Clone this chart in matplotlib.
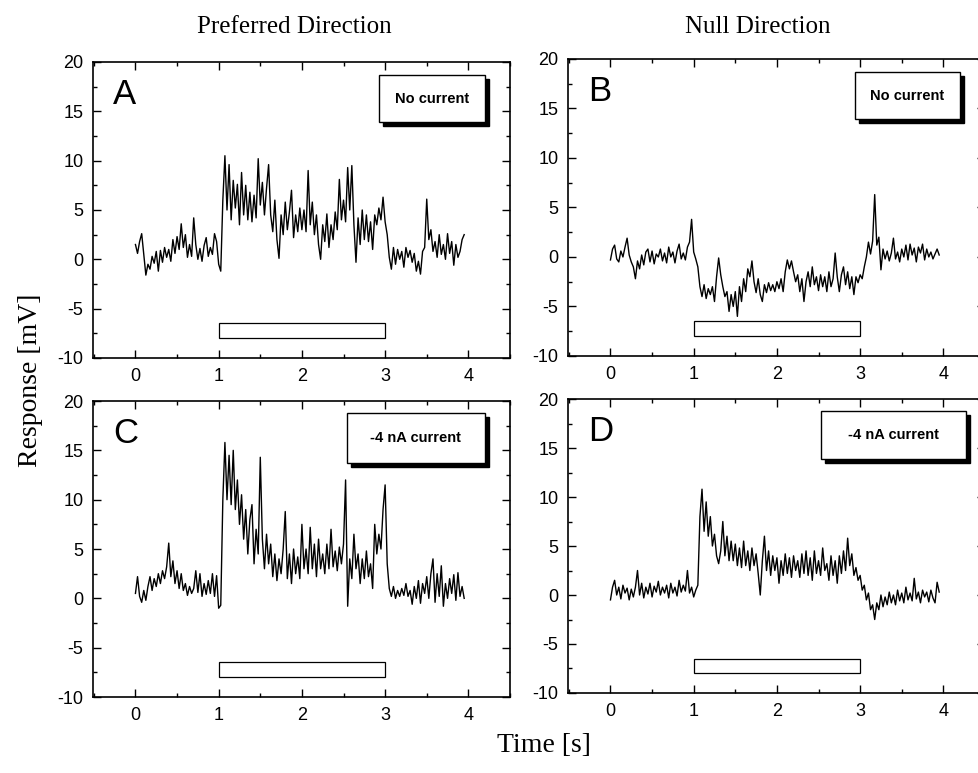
import numpy
import matplotlib
matplotlib.use("Agg")
import matplotlib.pyplot as plt
from matplotlib.patches import Rectangle

# ----

# Sample times (s); 25 ms spacing.
time = numpy.arange(159) * 0.025

# Preferred direction, no current (A).
resp_a = [
    1.5, 0.6, 1.8, 2.6, 0.5, -1.6, -0.5, -1.0, 0.3, -0.4, 0.8, -1.2, 0.9, -0.3, 1.2, 0.2, 1.0, -0.2, 2.0, 0.6,
    2.3, 1.0, 3.6, 1.2, 2.5, 0.2, 1.5, 0.3, 4.2, 1.5, 0.0, 1.1, -0.2, 1.4, 2.2, 0.3, 1.2, 0.5, 2.6, 1.8,
    -0.5, -1.2, 6.0, 10.5, 5.0, 9.6, 4.0, 8.0, 5.2, 7.6, 3.5, 8.8, 4.5, 7.5, 4.0, 6.8, 3.8, 6.5, 4.2, 10.2,
    5.5, 7.8, 4.5, 7.2, 9.6, 4.5, 2.8, 6.0, 2.0, 0.1, 4.5, 2.5, 5.8, 3.0, 4.8, 7.0, 2.2, 4.5, 2.8, 5.2,
    3.0, 5.0, 2.8, 9.0, 3.5, 5.8, 2.5, 4.5, 1.5, 0.0, 3.5, 1.8, 4.6, 1.2, 3.5, 2.0, 4.8, 3.0, 8.1, 4.0,
    6.0, 3.8, 9.3, 5.0, 9.5, 3.5, -0.3, 4.2, 1.5, 5.0, 2.0, 4.5, 1.8, 3.8, 1.0, 4.5, 3.5, 5.2, 4.0, 6.3,
    3.8, 2.5, 0.2, -1.0, 1.2, -0.5, 1.0, 0.0, 0.8, -0.8, 1.2, 0.2, 0.9, -0.3, 0.6, -1.2, -0.2, -1.5, 0.8, 1.2,
    6.1, 2.0, 3.0, 0.8, 1.8, 0.2, 2.5, 0.5, 1.5, 0.0, 2.6, 0.6, 1.8, -0.6, 1.5, 0.2, 0.8, 2.0, 2.5,
]

# Null direction, no current (B).
resp_b = [
    -0.3, 0.8, 1.2, -0.2, -0.5, 0.6, 0.0, 1.0, 1.9, 0.2, -0.5, -1.0, -2.2, -0.4, -1.2, 0.2, -0.8, 0.5, 0.8, -0.5,
    0.6, -0.7, 0.3, 0.0, 0.8, -0.4, 0.4, -0.6, 1.0, 0.0, 0.5, -0.6, 0.6, 1.3, -0.2, 0.4, -0.3, 1.0, 1.5, 3.8,
    0.5, -0.2, -1.0, -3.0, -4.0, -2.8, -4.2, -3.2, -3.8, -3.0, -4.5, -2.0, -0.1, -1.8, -3.0, -4.0, -3.5, -5.5, -3.8, -5.0,
    -3.5, -6.0, -3.0, -4.5, -2.2, -3.5, -1.2, -2.0, -0.4, -2.5, -3.6, -2.2, -3.8, -4.5, -2.8, -3.6, -2.6, -3.4, -2.8, -3.5,
    -2.5, -3.2, -2.2, -3.5, -1.5, -0.3, -1.2, -0.4, -1.5, -2.5, -1.8, -3.5, -2.2, -4.5, -2.5, -1.5, -3.0, -1.0, -2.8, -2.0,
    -3.4, -1.8, -3.0, -2.0, -3.5, -1.5, -3.0, -2.2, 0.4, -2.0, -3.5, -1.8, -1.0, -2.8, -1.5, -3.2, -2.0, -3.8, -2.0, -2.6,
    -1.8, -2.2, -1.0, 0.0, 1.5, 0.3, 1.6, 6.3, 1.2, 2.0, -1.3, 0.8, -0.2, 0.6, -0.4, 0.4, 1.9, -0.2, 0.5, -0.5,
    0.8, 0.0, 1.2, -0.3, 1.3, 0.2, 0.9, -0.5, 1.0, 0.4, 1.3, -0.3, 0.8, 0.0, 0.5, -0.2, 0.3, 0.8, 0.2,
]

# Preferred direction, -4 nA current (C).
resp_c = [
    0.5, 2.2, 0.2, -0.4, 0.8, -0.2, 1.2, 2.2, 0.8, 2.0, 1.2, 2.5, 1.5, 2.8, 2.0, 3.2, 5.6, 2.2, 3.8, 1.5,
    2.8, 1.0, 2.5, 0.8, 1.5, 0.3, 1.2, 0.5, 1.0, 2.8, 0.6, 2.5, 0.2, 1.5, 0.4, 1.8, 0.5, 2.5, 0.2, 2.3,
    -1.0, -0.7, 10.0, 15.8, 10.0, 14.5, 9.5, 15.0, 9.0, 12.0, 7.5, 10.5, 6.0, 9.0, 4.5, 8.0, 9.5, 3.5, 7.0, 4.5,
    14.3, 6.0, 3.0, 6.5, 3.5, 5.5, 2.2, 4.5, 1.8, 4.0, 2.5, 5.0, 8.8, 2.0, 4.5, 1.5, 5.0, 2.5, 4.2, 2.0,
    7.5, 3.0, 5.0, 2.5, 7.2, 3.0, 5.5, 2.2, 6.0, 3.0, 4.5, 2.5, 5.5, 3.0, 7.0, 3.2, 4.8, 2.8, 5.2, 3.5,
    5.5, 12.0, -0.8, 4.0, 2.0, 6.5, 3.0, 4.5, 1.5, 4.0, 2.0, 4.8, 2.2, 3.5, 1.0, 7.5, 4.5, 6.5, 5.0, 9.0,
    11.5, 3.5, 1.0, 0.2, 1.2, 0.0, 0.8, 0.2, 1.0, 0.3, 1.5, 0.2, 0.8, -0.6, 1.2, 0.0, 1.8, -0.5, 1.5, 0.5,
    2.2, 0.0, 2.5, 4.0, -0.4, 2.5, 0.2, 3.3, -0.8, 1.5, 0.0, 2.0, 0.5, 2.4, -0.2, 2.6, 0.2, 1.2, 0.0,
]

# Null direction, -4 nA current (D).
resp_d = [
    -0.5, 0.8, 1.5, 0.0, 0.8, -0.4, 1.0, 0.2, 0.7, -0.5, 0.6, -0.2, 0.8, 2.5, 0.0, 1.2, -0.3, 0.8, 0.1, 1.2,
    -0.2, 0.9, 0.3, 1.4, 0.0, 0.8, 0.2, 1.0, -0.3, 1.2, 0.2, 0.8, -0.1, 1.5, 0.3, 1.0, 0.4, 2.5, 0.2, 0.8,
    -0.2, 0.5, 1.0, 8.0, 10.8, 6.5, 9.5, 6.0, 8.0, 5.0, 6.2, 4.0, 3.2, 4.5, 7.5, 4.0, 6.0, 3.5, 5.5, 3.5,
    5.2, 3.0, 4.8, 2.8, 5.5, 3.0, 4.5, 2.5, 4.8, 3.0, 4.2, 2.2, 0.0, 3.5, 6.0, 2.5, 4.5, 2.0, 4.0, 2.5,
    3.8, 1.2, 3.5, 2.0, 4.2, 2.2, 3.8, 1.8, 4.0, 2.5, 3.5, 1.8, 4.2, 2.2, 4.5, 2.0, 3.8, 1.5, 4.5, 2.2,
    3.5, 2.0, 4.8, 2.5, 3.2, 1.5, 4.0, 2.0, 3.5, 1.2, 4.0, 2.2, 4.5, 2.5, 5.8, 3.0, 4.2, 2.0, 2.8, 1.5,
    2.0, 0.5, 1.0, -0.5, 0.2, -1.5, -1.0, -2.5, -0.8, -1.5, 0.0, -1.2, -0.2, -1.0, 0.3, -0.8, 0.0, -1.0, 0.5, -0.6,
    0.2, -0.8, 0.8, -0.5, 0.2, -0.6, 1.7, -0.4, 0.3, -0.8, 0.5, -0.2, 0.3, -0.7, 0.5, -0.3, -0.8, 1.3, 0.3,
]

panel_letters = ["A", "B", "C", "D"]
panel_notes = ["No current", "No current", "-4 nA current", "-4 nA current"]
stim_on, stim_off = 1.0, 3.0

# ----

plt.rcParams["axes.unicode_minus"] = False
plt.rcParams["font.family"] = ["Liberation Sans", "DejaVu Sans"]

fig = plt.figure(figsize=(9.79, 7.73), dpi=100)

positions = [
    [0.0950, 0.5369, 0.4259, 0.3829],
    [0.5802, 0.5395, 0.4259, 0.3842],
    [0.0950, 0.0983, 0.4259, 0.3829],
    [0.5802, 0.1035, 0.4259, 0.3803],
]
# Note boxes in axes fractions: (x0, y0, x1, y1).
note_boxes = [
    (0.686, 0.797, 0.940, 0.956),
    (0.688, 0.798, 0.940, 0.956),
    (0.609, 0.790, 0.940, 0.959),
    (0.607, 0.795, 0.955, 0.960),
]

traces = [resp_a, resp_b, resp_c, resp_d]

for idx, resp in enumerate(traces):
    ax = fig.add_axes(positions[idx])
    ax.plot(time, resp, color="black", lw=1.0)

    # Stimulus bar.
    ax.add_patch(Rectangle((stim_on, -8.0), stim_off - stim_on, 1.5,
                           facecolor="white", edgecolor="black", lw=0.9))

    ax.set_xlim(-0.51, 4.5)
    ax.set_ylim(-10, 20)
    ax.set_xticks([0, 1, 2, 3, 4])
    ax.set_xticks(numpy.arange(-0.5, 4.6, 0.5), minor=True)
    ax.set_yticks([-10, -5, 0, 5, 10, 15, 20])
    ax.set_yticks(numpy.arange(-10, 20.1, 2.5), minor=True)
    ax.tick_params(which="both", direction="in", top=True, right=True,
                   labelsize=13, width=1.0)
    ax.tick_params(which="major", length=6, pad=7)
    ax.tick_params(which="minor", length=3)
    for sp in ax.spines.values():
        sp.set_linewidth(1.2)

    ax.text(0.048, 0.945, panel_letters[idx], transform=ax.transAxes,
            fontsize=25, va="top", ha="left")

    # Note box with heavy drop shadow.
    x0, y0, x1, y1 = note_boxes[idx]
    ax.add_patch(Rectangle((x0 + 0.010, y0 - 0.014), x1 - x0, y1 - y0,
                           transform=ax.transAxes, facecolor="black",
                           edgecolor="black", clip_on=False, zorder=4))
    ax.add_patch(Rectangle((x0, y0), x1 - x0, y1 - y0,
                           transform=ax.transAxes, facecolor="white",
                           edgecolor="black", lw=1.0, clip_on=False, zorder=5))
    ax.text((x0 + x1) / 2, (y0 + y1) / 2, panel_notes[idx],
            transform=ax.transAxes, fontsize=10.5, fontweight="bold",
            ha="center", va="center", zorder=6)

serif = ["Liberation Serif", "DejaVu Serif"]
fig.text(0.301, 0.965, "Preferred Direction", family=serif, fontsize=18,
         ha="center", va="center")
fig.text(0.774, 0.965, "Null Direction", family=serif, fontsize=18,
         ha="center", va="center")
fig.text(0.556, 0.035, "Time [s]", family=serif, fontsize=20,
         ha="center", va="center")
fig.text(0.031, 0.508, "Response [mV]", family=serif, fontsize=20,
         ha="center", va="center", rotation=90)

fig.savefig("out.png", dpi=100)
